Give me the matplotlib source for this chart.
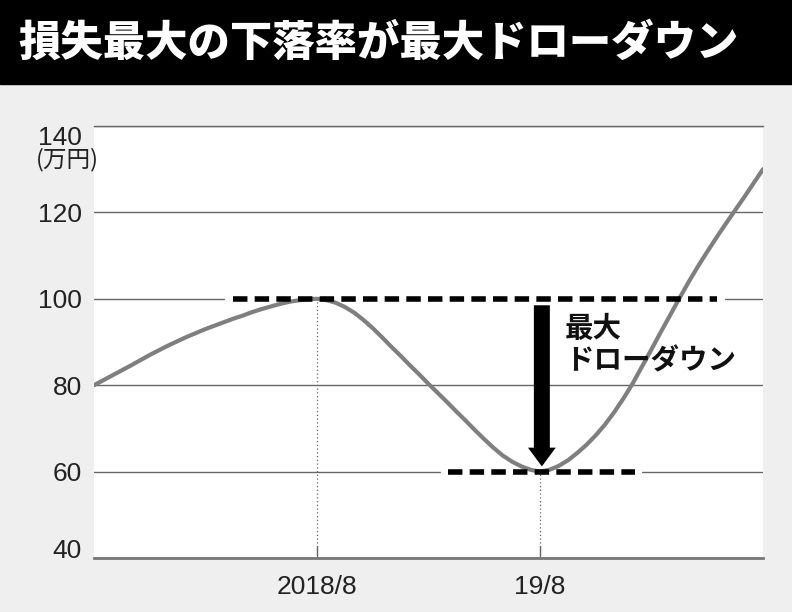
import matplotlib
matplotlib.use("Agg")
import matplotlib.pyplot as plt

plt.rcParams['font.family'] = ['Liberation Sans', 'Noto Sans CJK JP', 'DejaVu Sans']

# data (万円, read every half month from 2017/8 to 2020/8)
months = [i / 2 for i in range(73)]
values = [80.0, 81.15, 82.3, 83.45, 84.6, 85.8, 87.0, 88.1, 89.2, 90.2, 91.2, 92.1, 93.0,
          93.8, 94.6, 95.4, 96.1, 96.9, 97.6, 98.2, 98.8, 99.3, 99.65, 99.9, 100.0,
          99.7, 99.1, 98.1, 96.8, 95.1, 93.2, 91.1, 88.9, 86.8, 84.6, 82.5, 80.3,
          78.2, 76.1, 73.9, 71.8, 69.6, 67.5, 65.5, 63.7, 62.3, 61.2, 60.4, 60.0,
          60.4, 61.3, 62.6, 64.3, 66.2, 68.4, 70.9, 73.8, 77.0, 80.5, 84.4, 88.3,
          92.3, 96.2, 100.1, 103.9, 107.5, 110.9, 114.2, 117.4, 120.5, 123.6, 126.8, 130.0]
x_ticks = [12, 24]
x_labels = ['2018/8', '19/8']
y_ticks = [40, 60, 80, 100, 120, 140]
peak_month, peak_value = 12, 100
trough_month, trough_value = 24, 60

title = '損失最大の下落率が最大ドローダウン'
note = '最大\nドローダウン'

fig = plt.figure(figsize=(7.92, 6.12), dpi=100, facecolor='#efefef')

# black title band
fig.add_artist(plt.Rectangle((0, 1 - 84 / 612), 1, 84 / 612, transform=fig.transFigure,
                             color='black', zorder=0))
fig.text(18 / 792, 1 - 43 / 612, title, color='white', fontsize=30.5, fontweight='heavy',
         va='center', ha='left', family='Noto Sans CJK JP')

ax = fig.add_axes([94 / 792, 1 - 558 / 612, (763 - 94) / 792, (558 - 126) / 612])
ax.set_facecolor('white')
ax.set_xlim(0, 36)
ax.set_ylim(40, 140)

ax.set_axisbelow(True)
ax.set_yticks(y_ticks)
ax.set_yticklabels([str(v) for v in y_ticks])
ax.yaxis.grid(True, color='#666666', lw=1.0)
ax.set_xticks(x_ticks)
ax.set_xticklabels(x_labels)

for s in ['left', 'right']:
    ax.spines[s].set_visible(False)
ax.spines['top'].set_color('#666666')
ax.spines['top'].set_linewidth(1.0)
ax.spines['bottom'].set_color('#777777')
ax.spines['bottom'].set_linewidth(2.0)

ax.tick_params(axis='y', length=0, pad=8.6, labelsize=19, labelcolor='#222222')
ax.tick_params(axis='x', direction='in', length=8.6, width=1, color='#666666',
               pad=12, labelsize=19, labelcolor='#222222')

ylabels = ax.get_yticklabels()
ylabels[0].set_verticalalignment('baseline')
ylabels[-1].set_verticalalignment('top')

fig.text(36 / 792, 1 - 160 / 612, '(万円)', fontsize=17, va='center', ha='left',
         color='#222222', family=['Noto Sans CJK JP'])

# dotted guides
ax.vlines(peak_month, 40, peak_value, colors='#666666', linestyles=(0, (1, 2)), lw=0.9, zorder=1)
ax.vlines(trough_month, 40, trough_value, colors='#666666', linestyles=(0, (1, 2)), lw=0.9, zorder=1)

# value line
ax.plot(months, values, color='#7f7f7f', lw=3, solid_capstyle='round',
        solid_joinstyle='round', zorder=3)

# dashed high / low levels (break the grid beneath)
ax.plot([7.16, 33.85], [peak_value, peak_value], color='white', lw=3, zorder=1.5)
ax.plot([18.78, 29.4], [trough_value, trough_value], color='white', lw=3, zorder=1.5)
ax.plot([7.5, 33.5], [peak_value, peak_value], color='black', lw=4,
        linestyle=(0, (2.6, 1.3)), zorder=4)
ax.plot([19.07, 29.1], [trough_value, trough_value], color='black', lw=4,
        linestyle=(0, (2.6, 1.3)), zorder=4)

# drawdown arrow
ax.annotate('', xy=(24.1, 61.2), xytext=(24.1, 98.5),
            arrowprops=dict(facecolor='black', edgecolor='none', width=11.5,
                            headwidth=20, headlength=13.5, shrink=0), zorder=5)

ax.text(25.35, 96.2, note, fontsize=20.5, fontweight='bold', va='top', ha='left',
        linespacing=1.2, color='#111111', family='Noto Sans CJK JP', zorder=6)

fig.savefig('out.png', dpi=100, facecolor=fig.get_facecolor())
